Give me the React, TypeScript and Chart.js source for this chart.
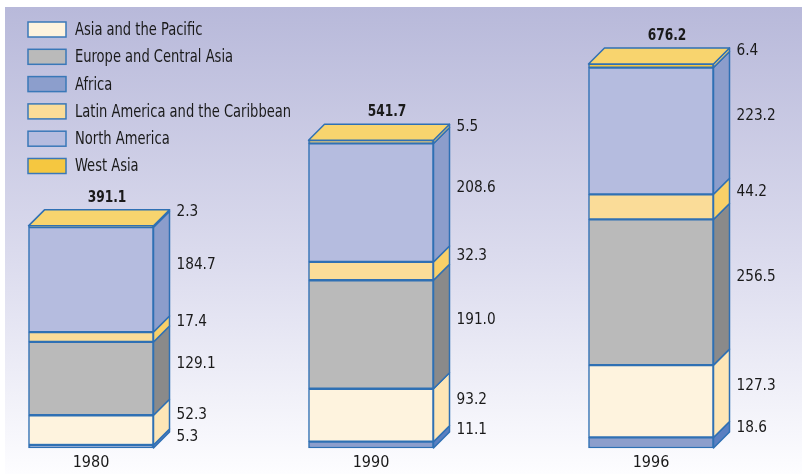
import React, { useEffect, useRef } from "react";
import { Chart, registerables } from "chart.js";

Chart.register(...registerables);

const years = ["1980", "1990", "1996"];
const africa = [5.3, 11.1, 18.6];
const asiaPacific = [52.3, 93.2, 127.3];
const europeCentralAsia = [129.1, 191.0, 256.5];
const latinAmerica = [17.4, 32.3, 44.2];
const northAmerica = [184.7, 208.6, 223.2];
const westAsia = [2.3, 5.5, 6.4];
const totals = [391.1, 541.7, 676.2];

const legendOrder = [
  "Asia and the Pacific",
  "Europe and Central Asia",
  "Africa",
  "Latin America and the Caribbean",
  "North America",
  "West Asia",
];

const FONT = "'Liberation Sans Narrow', 'DejaVu Sans Condensed', 'Arial Narrow', sans-serif";
const BORDER = "#2f70b4";
const TEXT = "#1a1a1a";
const DEPTH = 16;

const series = [
  { label: "Africa", data: africa, front: "#8c9ecc", side: "#5a7fc1" },
  { label: "Asia and the Pacific", data: asiaPacific, front: "#fef3de", side: "#fde6b6" },
  { label: "Europe and Central Asia", data: europeCentralAsia, front: "#bababa", side: "#8a8a8a" },
  { label: "Latin America and the Caribbean", data: latinAmerica, front: "#fadc98", side: "#f8d068" },
  { label: "North America", data: northAmerica, front: "#b5bcdf", side: "#8c9dcb" },
  { label: "West Asia", data: westAsia, front: "#f5c740", side: "#f8d46e" },
];

function drawText(ctx: CanvasRenderingContext2D, text: string, x: number, y: number, sx: number) {
  ctx.save();
  ctx.translate(x, y);
  ctx.scale(sx, 1);
  ctx.fillText(text, 0, 0);
  ctx.restore();
}

const bgPlugin = {
  id: "bg",
  beforeDraw(chart: any) {
    const { ctx, width, height } = chart;
    ctx.save();
    ctx.fillStyle = "#ffffff";
    ctx.fillRect(0, 0, width, height);
    const g = ctx.createLinearGradient(0, 7, 0, height);
    g.addColorStop(0, "#b8b9da");
    g.addColorStop(0.55, "#dcdcee");
    g.addColorStop(1, "#fdfdff");
    ctx.fillStyle = g;
    ctx.fillRect(5, 7, width - 5, height - 7);
    ctx.restore();
  },
};

const threeDPlugin = {
  id: "threeD",
  afterDatasetsDraw(chart: any) {
    const ctx = chart.ctx;
    const n = chart.data.datasets.length;
    ctx.save();
    ctx.lineWidth = 1.5;
    ctx.strokeStyle = BORDER;
    ctx.lineJoin = "round";
    for (let di = 0; di < n; di++) {
      const meta = chart.getDatasetMeta(di);
      const ds = series[di];
      meta.data.forEach((bar: any) => {
        const p = bar.getProps(["x", "y", "base", "width"], true);
        const left = p.x - p.width / 2;
        const right = p.x + p.width / 2;
        ctx.beginPath();
        ctx.moveTo(right, p.y);
        ctx.lineTo(right + DEPTH, p.y - DEPTH);
        ctx.lineTo(right + DEPTH, p.base - DEPTH);
        ctx.lineTo(right, p.base);
        ctx.closePath();
        ctx.fillStyle = ds.side;
        ctx.fill();
        ctx.stroke();
        if (di === n - 1) {
          ctx.beginPath();
          ctx.moveTo(left, p.y);
          ctx.lineTo(left + DEPTH, p.y - DEPTH);
          ctx.lineTo(right + DEPTH, p.y - DEPTH);
          ctx.lineTo(right, p.y);
          ctx.closePath();
          ctx.fillStyle = ds.side;
          ctx.fill();
          ctx.stroke();
        }
      });
    }
    ctx.fillStyle = TEXT;
    ctx.textBaseline = "middle";
    const nBars = chart.data.labels.length;
    for (let i = 0; i < nBars; i++) {
      let prev = -Infinity;
      ctx.font = `16px ${FONT}`;
      ctx.textAlign = "left";
      for (let di = n - 1; di >= 0; di--) {
        const bar = chart.getDatasetMeta(di).data[i];
        const p = bar.getProps(["x", "y", "base", "width"], true);
        let yy = (p.y + p.base) / 2 - DEPTH;
        yy = Math.max(yy, prev + 22);
        prev = yy;
        const val = chart.data.datasets[di].data[i] as number;
        drawText(ctx, val.toFixed(1), p.x + p.width / 2 + DEPTH + 7, yy + 1, 0.95);
      }
      const topBar = chart.getDatasetMeta(n - 1).data[i];
      const tp = topBar.getProps(["x", "y", "width"], true);
      ctx.font = `bold 16px ${FONT}`;
      ctx.textAlign = "center";
      drawText(ctx, totals[i].toFixed(1), tp.x + DEPTH, tp.y - DEPTH - 12, 0.85);
    }
    ctx.restore();
  },
  afterDraw(chart: any) {
    const ctx = chart.ctx;
    ctx.save();
    ctx.font = `17px ${FONT}`;
    ctx.textBaseline = "middle";
    ctx.textAlign = "left";
    legendOrder.forEach((name, k) => {
      const ds = series.find((s) => s.label === name)!;
      const cy = 29.5 + k * 27.3;
      ctx.fillStyle = ds.front;
      ctx.fillRect(28, cy - 7.5, 38, 15);
      ctx.strokeStyle = "#3a78b8";
      ctx.lineWidth = 1.5;
      ctx.strokeRect(28, cy - 7.5, 38, 15);
      ctx.fillStyle = TEXT;
      drawText(ctx, name, 75, cy + 1, 0.855);
    });
    ctx.restore();
  },
};

export default function App() {
  const ref = useRef<HTMLCanvasElement>(null);
  useEffect(() => {
    if (!ref.current) return;
    const chart = new Chart(ref.current, {
      type: "bar",
      data: {
        labels: years,
        datasets: series.map((s) => ({
          label: s.label,
          data: s.data,
          backgroundColor: s.front,
          borderColor: BORDER,
          borderWidth: 1.5,
          borderSkipped: false,
          barThickness: 125,
        })),
      },
      options: {
        responsive: false,
        animation: false,
        devicePixelRatio: 1,
        events: [],
        layout: { padding: { top: 22, left: 91, right: 151, bottom: 0 } },
        plugins: { legend: { display: false }, tooltip: { enabled: false } },
        datasets: { bar: { clip: false as any } },
        scales: {
          x: {
            stacked: true,
            offset: false,
            grid: { display: false, drawTicks: false },
            border: { display: false },
            afterFit: (scale: any) => {
              scale.height = 26;
            },
            ticks: {
              color: TEXT,
              font: { family: FONT, size: 16 },
              padding: 5,
              maxRotation: 0,
              autoSkip: false,
            },
          },
          y: { stacked: true, display: false, min: 0, max: 750 },
        },
      },
      plugins: [bgPlugin, threeDPlugin],
    });
    return () => chart.destroy();
  }, []);
  return (
    <div style={{ position: "fixed", left: 0, top: 0, width: 802, height: 474 }}>
      <canvas ref={ref} width={802} height={474} />
    </div>
  );
}
